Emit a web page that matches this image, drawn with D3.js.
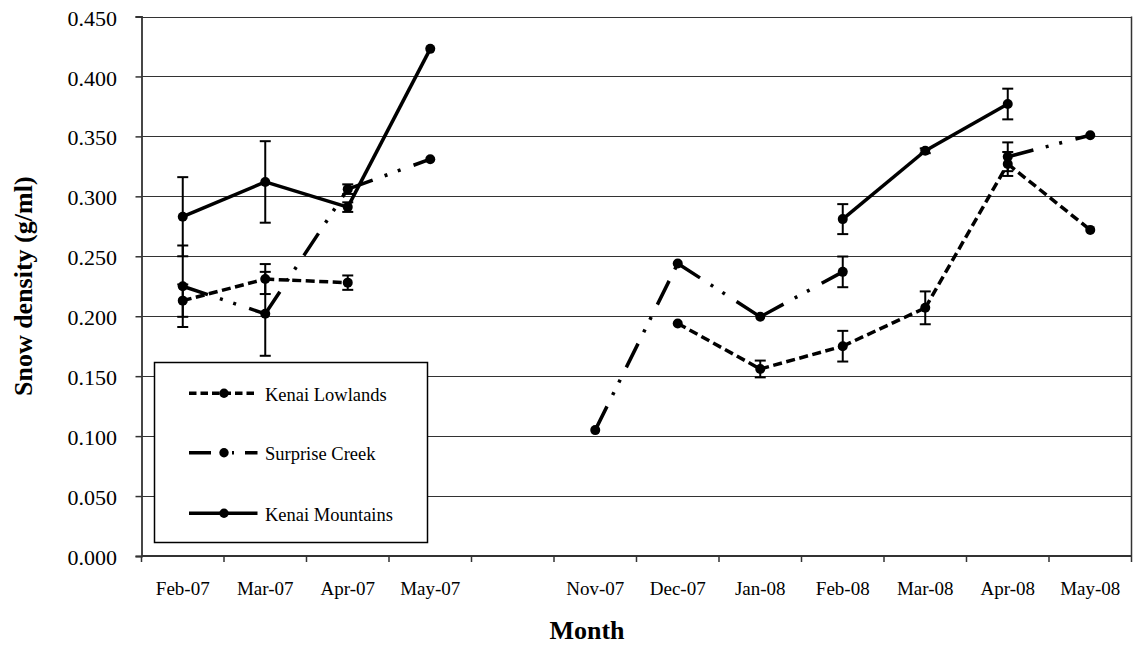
<!DOCTYPE html>
<html>
<head>
<meta charset="utf-8">
<script src="https://cdn.jsdelivr.net/npm/d3@7"></script>
<style>
  html, body { margin: 0; padding: 0; background: #fff; }
  svg { display: block; }
  text { font-family: "Liberation Serif", "Times New Roman", serif; fill: #000; }
</style>
</head>
<body>
<svg id="chart" width="1133" height="647"></svg>
<script>
// Monthly sampling periods (one empty slot separates the two winters)
const months = ["Feb-07", "Mar-07", "Apr-07", "May-07", "", "Nov-07", "Dec-07", "Jan-08", "Feb-08", "Mar-08", "Apr-08", "May-08"];

// Mean snow density (g/ml) per site; null = not sampled
const lowlands     = [0.213, 0.231, 0.228, null, null, null, 0.194, 0.156, 0.175, 0.207, 0.327, 0.272];
const lowlandsErr  = [0.0135, 0.0125, 0.006, null, null, null, null, 0.007, 0.0128, 0.0137, 0.010, null];
const surprise     = [0.225, 0.202, 0.306, 0.331, null, 0.105, 0.244, 0.1995, 0.237, null, 0.333, 0.351];
const surpriseErr  = [0.034, 0.035, 0.004, null, null, null, null, null, 0.0128, null, 0.012, null];
const mountains    = [0.283, 0.312, 0.291, 0.423, null, null, null, null, 0.281, 0.338, 0.377, null];
const mountainsErr = [0.033, 0.034, 0.004, null, null, null, null, null, 0.0125, 0.002, 0.0128, null];

const seriesNames = ["Kenai Lowlands", "Surprise Creek", "Kenai Mountains"];
const yTicks = [0, 0.05, 0.1, 0.15, 0.2, 0.25, 0.3, 0.35, 0.4, 0.45];

const series = [
  { name: seriesNames[0], values: lowlands,  err: lowlandsErr,  dash: "9,4.5",                       legendDash: "7.5,4" },
  { name: seriesNames[1], values: surprise,  err: surpriseErr,  dash: "26.5,12.7,3,11,3,13.8",       legendDash: "22,21,2,11,13" },
  { name: seriesNames[2], values: mountains, err: mountainsErr, dash: null,                          legendDash: null }
];

const svg = d3.select("#chart");
const plot = { left: 141.5, right: 1131.5, top: 16.5, bottom: 556 };

const x = d3.scaleBand()
  .domain(d3.range(months.length))
  .range([plot.left, plot.right])
  .padding(0);
const y = d3.scaleLinear()
  .domain([0, 0.45])
  .range([plot.bottom, plot.top]);
const cx = i => x(i) + x.bandwidth() / 2;

// Horizontal gridlines
svg.append("g")
  .selectAll("line")
  .data(yTicks.filter(v => v > 0))
  .join("line")
  .attr("x1", plot.left).attr("x2", plot.right)
  .attr("y1", d => Math.round(y(d)) + 0.5).attr("y2", d => Math.round(y(d)) + 0.5)
  .attr("stroke", "#333").attr("stroke-width", 1.2);

// Right border of the plot area
svg.append("line")
  .attr("x1", plot.right).attr("x2", plot.right)
  .attr("y1", y(0.45)).attr("y2", plot.bottom)
  .attr("stroke", "#333").attr("stroke-width", 1.5);

// Y axis
const yAxis = svg.append("g")
  .attr("transform", `translate(${plot.left},0)`)
  .call(d3.axisLeft(y).tickValues(yTicks).tickFormat(d3.format(".3f")).tickSize(6).tickPadding(18.5));
yAxis.select(".domain").attr("stroke", "#333").attr("stroke-width", 1.8);
yAxis.selectAll(".tick line").attr("stroke", "#333").attr("stroke-width", 1.5);
yAxis.selectAll(".tick text")
  .attr("font-family", "Liberation Serif, Times New Roman, serif")
  .attr("font-size", 22).attr("dy", "0.39em").attr("fill", "#000");

// X axis: line, ticks at category boundaries, labels centred in categories
svg.append("line")
  .attr("x1", plot.left).attr("x2", plot.right)
  .attr("y1", y(0)).attr("y2", y(0))
  .attr("stroke", "#333").attr("stroke-width", 1.8);
const bounds = d3.range(months.length + 1).map(i => i < months.length ? x(i) : plot.right);
svg.append("g")
  .selectAll("line")
  .data(bounds)
  .join("line")
  .attr("x1", d => d).attr("x2", d => d)
  .attr("y1", y(0)).attr("y2", y(0) + 6)
  .attr("stroke", "#333").attr("stroke-width", 1.5);
svg.append("g")
  .selectAll("text")
  .data(months)
  .join("text")
  .attr("x", (d, i) => cx(i))
  .attr("y", 595)
  .attr("text-anchor", "middle")
  .attr("font-size", 19)
  .text(d => d);

// Axis titles
svg.append("text")
  .attr("x", 587).attr("y", 639)
  .attr("text-anchor", "middle")
  .attr("font-size", 26).attr("font-weight", "bold")
  .text("Month");
svg.append("text")
  .attr("transform", `translate(32,${(plot.top + plot.bottom) / 2}) rotate(-90)`)
  .attr("text-anchor", "middle")
  .attr("font-size", 26).attr("font-weight", "bold")
  .text("Snow density (g/ml)");

// Series: each segment drawn separately so the dash pattern restarts at every point
series.forEach(s => {
  const g = svg.append("g");
  const segs = [];
  for (let i = 0; i < s.values.length - 1; i++) {
    if (s.values[i] != null && s.values[i + 1] != null) segs.push([i, i + 1]);
  }
  g.selectAll("line.seg")
    .data(segs)
    .join("line")
    .attr("class", "seg")
    .attr("x1", d => cx(d[0])).attr("y1", d => y(s.values[d[0]]))
    .attr("x2", d => cx(d[1])).attr("y2", d => y(s.values[d[1]]))
    .attr("stroke", "#000").attr("stroke-width", 3.5)
    .attr("stroke-dasharray", s.dash);

  // Error bars
  const errIdx = d3.range(s.values.length).filter(i => s.values[i] != null && s.err[i] != null);
  const eb = g.selectAll("g.err").data(errIdx).join("g").attr("class", "err");
  eb.append("line")
    .attr("x1", i => cx(i)).attr("x2", i => cx(i))
    .attr("y1", i => y(s.values[i] - s.err[i])).attr("y2", i => y(s.values[i] + s.err[i]))
    .attr("stroke", "#000").attr("stroke-width", 2);
  [-1, 1].forEach(sign => {
    eb.append("line")
      .attr("x1", i => cx(i) - 5.5).attr("x2", i => cx(i) + 5.5)
      .attr("y1", i => y(s.values[i] + sign * s.err[i])).attr("y2", i => y(s.values[i] + sign * s.err[i]))
      .attr("stroke", "#000").attr("stroke-width", 2);
  });

  // Markers
  g.selectAll("circle")
    .data(d3.range(s.values.length).filter(i => s.values[i] != null))
    .join("circle")
    .attr("cx", i => cx(i)).attr("cy", i => y(s.values[i]))
    .attr("r", 5).attr("fill", "#000");
});

// Legend
const legend = svg.append("g");
legend.append("rect")
  .attr("x", 154.5).attr("y", 362.5).attr("width", 273).attr("height", 180)
  .attr("fill", "#fff").attr("stroke", "#000").attr("stroke-width", 1.5);
const legendY = [393.3, 452.7, 513.3];
series.forEach((s, k) => {
  const ly = legendY[k];
  legend.append("line")
    .attr("x1", 189).attr("x2", 257.5).attr("y1", ly).attr("y2", ly)
    .attr("stroke", "#000").attr("stroke-width", 3.5)
    .attr("stroke-dasharray", s.legendDash);
  legend.append("circle").attr("cx", 224).attr("cy", ly).attr("r", 4.7).attr("fill", "#000");
  legend.append("text")
    .attr("x", 265).attr("y", ly + 7.5)
    .attr("font-size", 18.5)
    .text(s.name);
});
</script>
</body>
</html>
